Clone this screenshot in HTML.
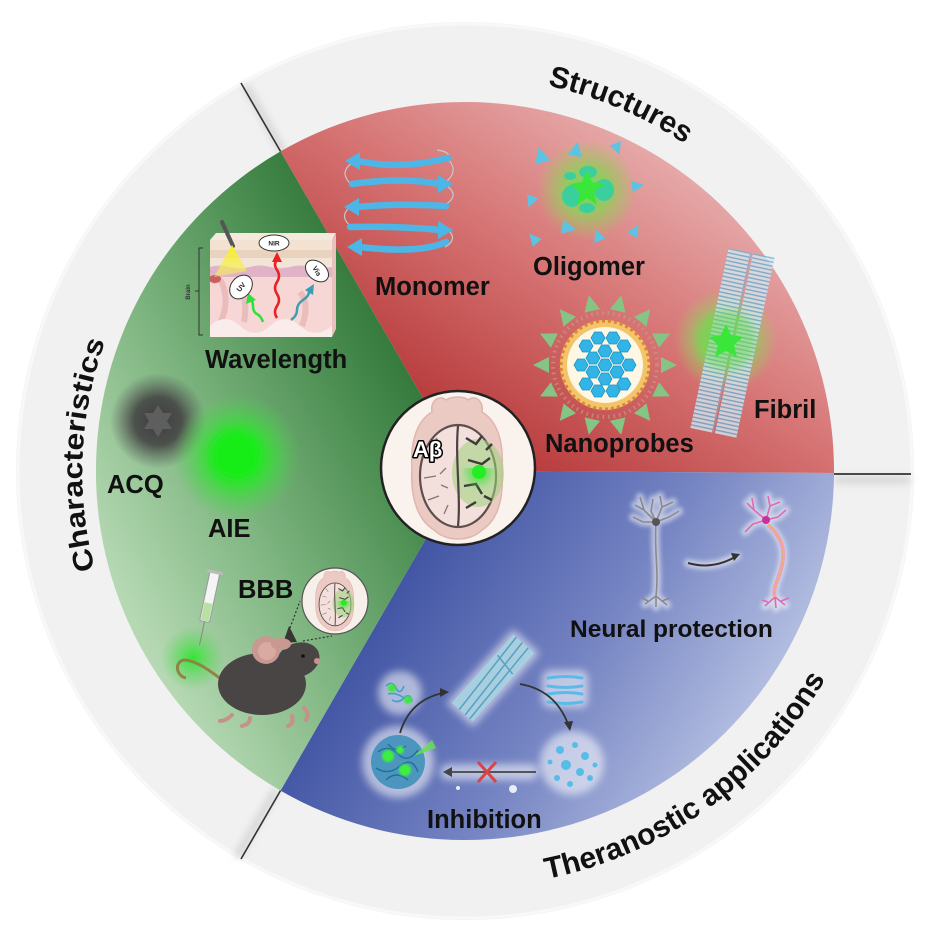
<!DOCTYPE html>
<html><head><meta charset="utf-8"><style>
html,body{margin:0;padding:0;background:#fff;}
svg{display:block;}
text{font-family:"Liberation Sans",Arial,sans-serif;font-weight:bold;}
</style></head><body>
<svg width="927" height="945" viewBox="0 0 927 945" xmlns="http://www.w3.org/2000/svg">
<defs>
<filter id="b1" filterUnits="userSpaceOnUse" x="0" y="0" width="927" height="945"><feGaussianBlur stdDeviation="1"/></filter>
<filter id="b2" filterUnits="userSpaceOnUse" x="0" y="0" width="927" height="945"><feGaussianBlur stdDeviation="2.5"/></filter>
<filter id="b4" filterUnits="userSpaceOnUse" x="0" y="0" width="927" height="945"><feGaussianBlur stdDeviation="4"/></filter>
<filter id="b8" filterUnits="userSpaceOnUse" x="0" y="0" width="927" height="945"><feGaussianBlur stdDeviation="8"/></filter>
<linearGradient id="gG" gradientUnits="userSpaceOnUse" x1="100" y1="560" x2="440" y2="380">
<stop offset="0" stop-color="#b6d9b4"/><stop offset="0.4" stop-color="#7db47f"/><stop offset="0.75" stop-color="#4d8f53"/><stop offset="1" stop-color="#2e7336"/></linearGradient>
<linearGradient id="gR" gradientUnits="userSpaceOnUse" x1="470" y1="470" x2="700" y2="120">
<stop offset="0" stop-color="#b33233"/><stop offset="0.5" stop-color="#d67373"/><stop offset="1" stop-color="#ebbaba"/></linearGradient>
<linearGradient id="gB" gradientUnits="userSpaceOnUse" x1="400" y1="520" x2="780" y2="760">
<stop offset="0" stop-color="#3a4e9f"/><stop offset="0.5" stop-color="#7483c2"/><stop offset="1" stop-color="#c4cee9"/></linearGradient>
<radialGradient id="glowG"><stop offset="0" stop-color="#18f018"/><stop offset="0.45" stop-color="#2ee52e" stop-opacity="0.85"/><stop offset="1" stop-color="#55d055" stop-opacity="0"/></radialGradient>
<radialGradient id="glowO"><stop offset="0" stop-color="#66e060"/><stop offset="0.45" stop-color="#98c860" stop-opacity="0.95"/><stop offset="1" stop-color="#a0c860" stop-opacity="0"/></radialGradient>
<radialGradient id="glowD"><stop offset="0" stop-color="#3c3c3c"/><stop offset="0.5" stop-color="#454545" stop-opacity="0.9"/><stop offset="1" stop-color="#555" stop-opacity="0"/></radialGradient>
<radialGradient id="glowS"><stop offset="0" stop-color="#30e830"/><stop offset="0.5" stop-color="#50dc50" stop-opacity="0.55"/><stop offset="1" stop-color="#60d060" stop-opacity="0"/></radialGradient>
<linearGradient id="cone" x1="0" y1="0" x2="0" y2="1"><stop offset="0" stop-color="#f7f020"/><stop offset="1" stop-color="#f7f060" stop-opacity="0.5"/></linearGradient>
<pattern id="stripe" width="6" height="4" patternUnits="userSpaceOnUse"><rect width="6" height="4" fill="#d6e8f0"/><rect width="6" height="1.4" fill="#6aaed0"/></pattern>
<polygon id="hex" points="7,0 3.5,6 -3.5,6 -7,0 -3.5,-6 3.5,-6" fill="#33b4e6" stroke="#1e95c8" stroke-width="0.8"/>
<polygon id="tri" points="10,0 -6,-8 -6,8" fill="#86c486"/>
<path id="ctri" d="M0,-7 L6,5 L-6,5 Z" fill="#5cc4e2"/>
<g id="brain">
<path d="M-12,-68 C-20,-74 -28,-66 -26,-56 C-40,-48 -48,-28 -46,0 C-48,30 -40,52 -24,62 C-12,74 12,74 24,62 C40,52 46,30 44,0 C46,-28 38,-48 24,-56 C26,-66 18,-74 10,-68 C6,-72 -6,-72 -12,-68 Z" fill="#ebcac3" stroke="#dfb6ae" stroke-width="1.5"/>
<ellipse cx="0" cy="8" rx="38" ry="51" fill="#f3dfdb" stroke="#5d4f4d" stroke-width="2.2"/>
<ellipse cx="20" cy="5" rx="26" ry="34" fill="#9ad27a" opacity="0.55"/>
<path d="M0,-42 C-3,-10 3,30 0,58" stroke="#4d4141" stroke-width="2.2" fill="none"/>
<path d="M-30,-12 l10,3 M-34,10 l12,-2 M-30,32 l11,-4 M-22,-30 l6,8 M-14,46 l4,-9 M-12,0 l-6,6 M-10,20 l-7,-3" stroke="#8a7370" stroke-width="1.3" fill="none"/>
<path d="M8,-30 l10,6 l6,-8 M10,-8 l14,4 l8,-6 M6,18 l12,-2 l6,10 M8,40 l10,-6 M26,28 l8,4 M28,-18 l6,-6" stroke="#3f3a3a" stroke-width="2.4" fill="none"/>
<circle cx="21" cy="4" r="13" fill="#3ae23a" opacity="0.6" filter="url(#b4)"/>
<circle cx="21" cy="4" r="7" fill="#22ee22"/>
</g>
</defs>

<!-- outer ring -->
<circle cx="465" cy="471" r="449" fill="#f1f1f1"/>
<circle cx="465" cy="471" r="447" fill="none" stroke="#f8f8f8" stroke-width="3"/>

<!-- divider shadows -->
<line x1="283" y1="152" x2="246" y2="86" stroke="#cfcfcf" stroke-width="6" filter="url(#b4)"/>
<line x1="834" y1="480" x2="910" y2="480" stroke="#cfcfcf" stroke-width="6" filter="url(#b4)"/>
<line x1="276" y1="790" x2="237" y2="857" stroke="#cfcfcf" stroke-width="6" filter="url(#b4)"/>

<!-- sectors -->
<path d="M465,471 L280.5,151.4 A369,369 0 0 1 834,473 Z" fill="url(#gR)"/>
<path d="M465,471 L834,473 A369,369 0 0 1 280.5,790.6 Z" fill="url(#gB)"/>
<path d="M465,471 L280.5,790.6 A369,369 0 0 1 280.5,151.4 Z" fill="url(#gG)"/>

<!-- divider lines -->
<line x1="280.5" y1="151.4" x2="241" y2="83" stroke="#333" stroke-width="1.6"/>
<line x1="834" y1="474" x2="911" y2="474" stroke="#333" stroke-width="1.8"/>
<line x1="280.5" y1="790.6" x2="241" y2="859" stroke="#333" stroke-width="1.6"/>

<!-- ring labels -->
<path id="pS" d="M227.9,156.3 A394,394 0 0 1 856.1,423.0" fill="none"/>
<path id="pC" d="M259.3,793.9 A382,382 0 0 1 288.7,132.3" fill="none"/>
<path id="pT" d="M293.8,850.1 A416,416 0 0 0 879.0,429.7" fill="none"/>
<text font-size="30" fill="#111"><textPath href="#pS" startOffset="50%" text-anchor="middle">Structures</textPath></text>
<text font-size="28" fill="#111"><textPath href="#pC" startOffset="50%" text-anchor="middle" textLength="232" lengthAdjust="spacingAndGlyphs">Characteristics</textPath></text>
<text font-size="30" fill="#111"><textPath href="#pT" startOffset="50%" text-anchor="middle">Theranostic applications</textPath></text>

<!-- ===== GREEN: Wavelength ===== -->
<g>
<rect x="210" y="240" width="122" height="97" fill="#f6d7d5"/>
<rect x="210" y="240" width="122" height="10" fill="#f3e2d1"/>
<rect x="210" y="250" width="122" height="8" fill="#e9d2be"/>
<rect x="210" y="258" width="122" height="9" fill="#f2e4d6"/>
<path d="M210,267 q10,-3 20,0 t20,0 t20,0 t20,0 t20,0 t22,0 v10 H210 Z" fill="#e0b4c6"/>
<path d="M212,283 q6,-8 10,0 q8,20 -2,40 M240,290 q8,10 4,32 M300,292 q10,12 2,34" stroke="#ebbcbc" stroke-width="6" fill="none"/>
<path d="M210,326 q15,-14 30,0 t30,0 t30,0 t32,0 V337 H210 Z" fill="#fbecec"/>
<ellipse cx="215" cy="279" rx="6" ry="4" fill="#c86060"/>
<path d="M332,240 l4,-6 v95 l-4,8 Z" fill="#e8c0bc"/>
<path d="M210,240 l6,-7 h120 l-4,7 Z" fill="#f5e8dc"/>
<line x1="222" y1="222" x2="233" y2="246" stroke="#555" stroke-width="4" stroke-linecap="round"/>
<polygon points="232,245 214,277 247,271" fill="url(#cone)"/>
<path d="M277,318 q-4,-6 0,-12 t0,-12 t0,-12 t0,-12 t0,-10" stroke="#e82222" stroke-width="2.5" fill="none"/>
<polygon points="277,252 272,262 282,262" fill="#e82222"/>
<path d="M263,322 q-2,-6 -6,-8 t-4,-8 t-4,-8" stroke="#2ee03a" stroke-width="2.5" fill="none"/>
<polygon points="248,293 246,304 256,300" fill="#2ee03a"/>
<path d="M291,320 q6,-4 6,-10 t6,-10 t6,-8" stroke="#3a9fb0" stroke-width="2.5" fill="none"/>
<polygon points="314,284 305,290 313,295" fill="#3a9fb0"/>
<ellipse cx="274" cy="243" rx="15" ry="8" fill="#fff" stroke="#333" stroke-width="1"/>
<text x="274" y="245.5" font-size="6.5" text-anchor="middle" fill="#222">NIR</text>
<ellipse cx="241" cy="287" rx="10" ry="13" transform="rotate(40 241 287)" fill="#fff" stroke="#333" stroke-width="1"/>
<text x="241" y="289.5" font-size="7" text-anchor="middle" fill="#222" transform="rotate(-50 241 287)">UV</text>
<ellipse cx="317" cy="271" rx="13" ry="9" transform="rotate(40 317 271)" fill="#fff" stroke="#333" stroke-width="1"/>
<text x="317" y="273.5" font-size="7" text-anchor="middle" fill="#222" transform="rotate(60 317 271)">Vis</text>
<path d="M203,248 h-4 v87 h4 M199,291 h-4" stroke="#333" stroke-width="1" fill="none"/>
<text x="190" y="292" font-size="6" text-anchor="middle" fill="#333" transform="rotate(-90 190 292)">Brain</text>
</g>
<text x="205" y="368" font-size="25.5" fill="#111">Wavelength</text>

<!-- ACQ / AIE -->
<circle cx="158" cy="421" r="48" fill="url(#glowD)"/>
<polygon points="158,405 163,413 172,413 167,421 172,429 163,429 158,437 153,429 144,429 149,421 144,413 153,413" fill="#5e5e5e"/>
<circle cx="237" cy="457" r="64" fill="url(#glowG)"/>
<circle cx="236" cy="455" r="24" fill="#12ec12" filter="url(#b4)"/>
<text x="107" y="493" font-size="25.5" fill="#111">ACQ</text>
<text x="208" y="537" font-size="25.5" fill="#111">AIE</text>

<!-- BBB mouse -->
<circle cx="193" cy="658" r="32" fill="url(#glowS)"/>
<path d="M226,683 C212,672 196,660 184,660 C174,662 176,676 186,678" stroke="#8f8444" stroke-width="3" fill="none"/>
<g transform="rotate(12 208 605)">
<rect x="203" y="572" width="10" height="50" rx="2" fill="#f4f4f4" stroke="#9a9a9a" stroke-width="1"/>
<rect x="204" y="603" width="8" height="18" fill="#b8e0a0"/>
<rect x="200" y="570" width="16" height="3" fill="#bbb"/>
<line x1="208" y1="622" x2="208" y2="646" stroke="#888" stroke-width="1"/>
</g>
<path d="M232,715 q-6,6 -12,6 M250,718 q0,6 -8,8 M292,716 q2,8 -4,10 M304,708 q6,6 2,12" stroke="#c49288" stroke-width="4" stroke-linecap="round" fill="none"/>
<ellipse cx="262" cy="684" rx="44" ry="31" fill="#4a4545"/>
<ellipse cx="298" cy="660" rx="22" ry="17" transform="rotate(-20 298 660)" fill="#4a4545"/>
<circle cx="266" cy="650" r="14" fill="#c99890"/>
<circle cx="267" cy="651" r="9" fill="#d8aaa2"/>
<path d="M283,643 l6,-17 l8,16 Z" fill="#3a3535"/>
<ellipse cx="281" cy="644" rx="10" ry="6" fill="#c99890"/>
<circle cx="317" cy="661" r="3" fill="#d08e90"/>
<circle cx="303" cy="656" r="1.8" fill="#111"/>
<path d="M290,628 L300,601 M303,641 L332,636" stroke="#333" stroke-width="1.2" stroke-dasharray="2,2" fill="none"/>
<circle cx="335" cy="601" r="33" fill="#f7efe9" stroke="#555" stroke-width="1.2"/>
<use href="#brain" transform="translate(335 601) scale(0.42)"/>
<text x="238" y="598" font-size="25.5" fill="#111">BBB</text>

<!-- ===== RED: Monomer ===== -->
<g fill="none" stroke="#c8c8c8" stroke-width="1.2">
<path d="M437,150 q16,2 10,10 M447,158 q14,14 -4,26"/>
<path d="M352,163 q-14,10 0,22"/>
<path d="M447,186 q14,10 -4,20"/>
<path d="M350,207 q-12,10 2,20"/>
<path d="M447,229 q12,10 -2,18"/>
</g>
<g stroke="#4db6e6" stroke-width="6.5" fill="none" stroke-linecap="round">
<path d="M448,158 Q400,170 358,161"/>
<path d="M352,184 Q400,177 440,184"/>
<path d="M446,206 Q400,203 357,207"/>
<path d="M350,227 Q400,226 440,230"/>
<path d="M446,242 Q420,254 360,247"/>
</g>
<g fill="#4db6e6">
<polygon points="345,161 360,152 360,170"/>
<polygon points="453,184 438,175 438,193"/>
<polygon points="344,207 359,198 359,216"/>
<polygon points="453,230 438,221 438,239"/>
<polygon points="347,247 362,238 362,256"/>
</g>
<text x="375" y="295" font-size="25.5" fill="#111">Monomer</text>

<!-- Oligomer -->
<circle cx="587" cy="190" r="50" fill="url(#glowO)"/>
<g fill="#3ccf9e">
<ellipse cx="572" cy="196" rx="10" ry="11"/>
<ellipse cx="604" cy="190" rx="10" ry="11"/>
<ellipse cx="588" cy="172" rx="9" ry="6"/>
<ellipse cx="587" cy="208" rx="8" ry="5"/>
<ellipse cx="570" cy="176" rx="6" ry="4"/>
</g>
<polygon points="587,170 592,182 604,184 594,192 597,205 587,198 577,205 580,192 570,184 582,182" fill="#3ae63a"/>
<use href="#ctri" transform="translate(541 156) rotate(-15) scale(1.3)"/>
<use href="#ctri" transform="translate(576 150) rotate(10) scale(1.2)"/>
<use href="#ctri" transform="translate(617 148) rotate(160)"/>
<use href="#ctri" transform="translate(637 186) rotate(80)"/>
<use href="#ctri" transform="translate(531 201) rotate(200)"/>
<use href="#ctri" transform="translate(635 231) rotate(30)"/>
<use href="#ctri" transform="translate(598 236) rotate(-20)"/>
<use href="#ctri" transform="translate(568 228) rotate(100) scale(1.2)"/>
<use href="#ctri" transform="translate(534 239) rotate(-40)"/>
<text x="533" y="275" font-size="25.5" fill="#111">Oligomer</text>

<!-- Nanoprobes -->
<g>
<use href="#tri" transform="translate(667 365)"/>
<use href="#tri" transform="translate(661 392) rotate(25.7)"/>
<use href="#tri" transform="translate(644 413) rotate(51.4)"/>
<use href="#tri" transform="translate(619 425) rotate(77.1)"/>
<use href="#tri" transform="translate(591 425) rotate(102.9)"/>
<use href="#tri" transform="translate(566 413) rotate(128.6)"/>
<use href="#tri" transform="translate(549 392) rotate(154.3)"/>
<use href="#tri" transform="translate(543 365) rotate(180)"/>
<use href="#tri" transform="translate(549 338) rotate(205.7)"/>
<use href="#tri" transform="translate(566 317) rotate(231.4)"/>
<use href="#tri" transform="translate(591 305) rotate(257.1)"/>
<use href="#tri" transform="translate(619 305) rotate(282.9)"/>
<use href="#tri" transform="translate(644 317) rotate(308.6)"/>
<use href="#tri" transform="translate(661 338) rotate(334.3)"/>
</g>
<circle cx="605" cy="365" r="52" fill="none" stroke="#c89a8a" stroke-width="4" stroke-dasharray="1.5,4" opacity="0.7"/>
<circle cx="605" cy="365" r="45" fill="#f3c46a"/>
<circle cx="605" cy="365" r="44" fill="none" stroke="#d8843a" stroke-width="3" stroke-dasharray="3,3"/>
<circle cx="605" cy="365" r="38" fill="#fdf7e4"/>
<g>
<use href="#hex" transform="translate(605 365)"/>
<use href="#hex" transform="translate(593 358)"/>
<use href="#hex" transform="translate(617 358)"/>
<use href="#hex" transform="translate(593 372)"/>
<use href="#hex" transform="translate(617 372)"/>
<use href="#hex" transform="translate(605 351)"/>
<use href="#hex" transform="translate(605 379)"/>
<use href="#hex" transform="translate(581 365)"/>
<use href="#hex" transform="translate(629 365)"/>
<use href="#hex" transform="translate(586 346)"/>
<use href="#hex" transform="translate(624 346)"/>
<use href="#hex" transform="translate(586 384)"/>
<use href="#hex" transform="translate(624 384)"/>
<use href="#hex" transform="translate(598 338)"/>
<use href="#hex" transform="translate(613 338)"/>
<use href="#hex" transform="translate(598 391)"/>
<use href="#hex" transform="translate(613 391)"/>
</g>
<text x="545" y="452" font-size="25.5" fill="#111">Nanoprobes</text>

<!-- Fibril -->
<circle cx="726" cy="340" r="52" fill="url(#glowO)"/>
<g transform="translate(733 343) rotate(12)" opacity="0.8">
<rect x="-24" y="-92" width="22" height="184" fill="url(#stripe)"/>
<rect x="1" y="-92" width="22" height="184" fill="url(#stripe)"/>
<line x1="-1" y1="-92" x2="-1" y2="92" stroke="#7ab0cc" stroke-width="1"/>
</g>
<circle cx="726" cy="340" r="30" fill="#6ad84e" opacity="0.5" filter="url(#b4)"/>
<polygon points="726,324 731,335 743,337 734,345 737,357 726,351 715,357 718,345 709,337 721,335" fill="#3ae63a"/>
<text x="754" y="418" font-size="25.5" fill="#111">Fibril</text>

<!-- ===== BLUE: Neural protection ===== -->
<g fill="none" stroke="#ffffff" stroke-width="8" opacity="0.55" filter="url(#b2)" stroke-linecap="round">
<path d="M656,522 L644,510 L635,505 M644,510 L640,497 M656,522 L662,507 L660,496 M662,507 L673,502 M656,522 L669,517 L679,511 M656,522 L643,522 L633,517 M656,522 L651,511 L653,499 M656,524 C654,550 659,570 656,596 M656,596 L645,604 M656,596 L667,605 M656,596 L656,607"/>
<path d="M766,520 L754,510 L747,503 M754,510 L752,498 M766,520 L770,506 L768,496 M770,506 L780,502 M766,520 L778,517 L786,510 M766,520 L753,524 L745,532 M768,525 C780,535 786,548 782,565 C779,580 772,588 775,597 M775,597 L765,606 M775,597 L785,605 M775,597 L776,608"/>
<path d="M688,563 Q712,570 737,556"/>
</g>
<g fill="none" stroke="#8a8a8a" stroke-width="1.6">
<path d="M656,522 L644,510 L635,505 M644,510 L640,497 M656,522 L662,507 L660,496 M662,507 L673,502 M656,522 L669,517 L679,511 M656,522 L643,522 L633,517 M656,522 L651,511 L653,499 M656,524 C654,550 659,570 656,596 M656,596 L645,604 M656,596 L667,605 M656,596 L656,607 M648,601 L642,598 M662,601 L670,598"/>
</g>
<circle cx="656" cy="522" r="4" fill="#555"/>
<g fill="none" stroke="#e06ab2" stroke-width="1.6">
<path d="M766,520 L754,510 L747,503 M754,510 L752,498 M766,520 L770,506 L768,496 M770,506 L780,502 M766,520 L778,517 L786,510 M766,520 L753,524 L745,532 M775,597 L765,606 M775,597 L785,605 M775,597 L776,608 M768,602 L762,600 M781,601 L789,598"/>
</g>
<path d="M768,525 C780,535 786,548 782,565 C779,580 772,588 775,597" fill="none" stroke="#e6a0c8" stroke-width="4"/>
<path d="M768,525 C780,535 786,548 782,565 C779,580 772,588 775,597" fill="none" stroke="#f2b070" stroke-width="2.5" stroke-dasharray="3,2"/>
<circle cx="766" cy="520" r="4" fill="#c8309a"/>
<path d="M688,563 Q712,570 735,557" fill="none" stroke="#333" stroke-width="2"/>
<polygon points="740,554 731,553 734,561" fill="#333"/>
<text x="570" y="637" font-size="24.5" fill="#111">Neural protection</text>

<!-- Inhibition cycle -->
<g fill="#ffffff" opacity="0.55" filter="url(#b4)">
<circle cx="400" cy="693" r="22"/>
<circle cx="398" cy="762" r="36"/>
<rect x="-18" y="-50" width="36" height="100" transform="translate(493 678) rotate(42)"/>
<rect x="542" y="670" width="46" height="38" rx="8"/>
<circle cx="572" cy="763" r="32"/>
<rect x="440" y="764" width="98" height="16" rx="8"/>
</g>
<g transform="translate(493 678) rotate(42)">
<rect x="-14" y="-46" width="28" height="92" fill="#a8cfe0"/>
<path d="M-10,-46 L-4,46 M-2,-46 L4,46 M6,-46 L10,46 M-12,-20 L12,-16" stroke="#5a9fc2" stroke-width="1.5" fill="none"/>
</g>
<g stroke="#3aa0c8" stroke-width="1.6" fill="none">
<path d="M386,686 q6,-6 10,2 t8,-2 M392,700 q6,4 12,-2 t8,4 M388,694 q8,-2 16,4"/>
</g>
<circle cx="392" cy="688" r="4" fill="#3ae83a" filter="url(#b1)"/>
<circle cx="408" cy="700" r="4" fill="#3ae83a" filter="url(#b1)"/>
<circle cx="398" cy="762" r="27" fill="#3a8eb8" opacity="0.85"/>
<g stroke="#1f6f9a" stroke-width="1.4" fill="none">
<path d="M378,752 q10,-8 20,2 t20,-4 M376,768 q12,8 24,-2 t18,6 M386,780 q10,-10 22,0 M388,744 q8,10 18,2"/>
</g>
<circle cx="388" cy="756" r="6" fill="#3cf03c" filter="url(#b1)"/>
<circle cx="405" cy="770" r="6" fill="#3cf03c" filter="url(#b1)"/>
<circle cx="400" cy="750" r="4" fill="#3cf03c" filter="url(#b1)"/>
<polygon points="414,756 432,740 436,748" fill="#66dd55" opacity="0.85"/>
<g stroke="#5bbbe8" stroke-width="3" fill="none" stroke-linecap="round">
<path d="M548,678 q18,-3 34,0 M548,686 q18,3 34,0 M548,694 q18,-3 34,0 M548,702 q18,3 34,0"/>
</g>
<g fill="#58bde6">
<circle cx="560" cy="750" r="4"/><circle cx="575" cy="745" r="3"/><circle cx="585" cy="756" r="4"/>
<circle cx="566" cy="765" r="5"/><circle cx="580" cy="772" r="4"/><circle cx="557" cy="778" r="3"/>
<circle cx="590" cy="778" r="3"/><circle cx="570" cy="784" r="3"/><circle cx="550" cy="762" r="2.5"/>
<circle cx="595" cy="765" r="2.5"/>
</g>
<path d="M400,733 Q410,700 443,693" fill="none" stroke="#333" stroke-width="1.8"/>
<polygon points="449,692 440,688 440,697" fill="#333"/>
<path d="M520,684 Q555,690 568,724" fill="none" stroke="#333" stroke-width="1.8"/>
<polygon points="570,731 564,722 573,721" fill="#333"/>
<line x1="536" y1="772" x2="450" y2="772" stroke="#444" stroke-width="1.8"/>
<polygon points="443,772 452,767 452,777" fill="#444"/>
<path d="M478,762 L496,782 M496,762 L478,782" stroke="#d94444" stroke-width="3"/>
<circle cx="458" cy="788" r="2" fill="#e8eef8"/><circle cx="513" cy="789" r="4" fill="#e8eef8"/>
<text x="427" y="828" font-size="25.5" fill="#111">Inhibition</text>

<!-- center circle -->
<circle cx="458" cy="468" r="77" fill="#f9f2ed" stroke="#222" stroke-width="2.5"/>
<use href="#brain" transform="translate(458 468)"/>
<text x="413" y="457" font-size="22" fill="#fff" stroke="#000" stroke-width="3" paint-order="stroke" stroke-linejoin="round">Aβ</text>
</svg>
</body></html>
